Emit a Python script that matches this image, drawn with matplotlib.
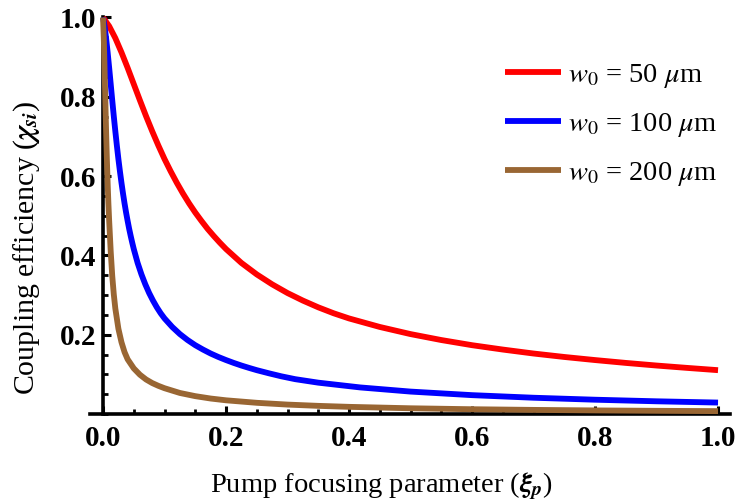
import matplotlib
matplotlib.use("Agg")
import matplotlib.pyplot as plt
from matplotlib.ticker import MultipleLocator, FixedLocator, FixedFormatter

# ---- data ----
red_x = [0.0, 0.01, 0.02, 0.03, 0.04, 0.05, 0.06, 0.07, 0.08, 0.09, 0.10,
         0.11, 0.12, 0.13, 0.14, 0.15, 0.16, 0.17, 0.18, 0.19, 0.20,
         0.225, 0.25, 0.275, 0.30, 0.325, 0.35, 0.375, 0.40,
         0.45, 0.50, 0.55, 0.60, 0.65, 0.70, 0.75, 0.80, 0.85, 0.90, 0.95, 1.00]
red_y = [1.000, 0.978, 0.948, 0.912, 0.873, 0.832, 0.791, 0.751, 0.713, 0.677, 0.643,
         0.612, 0.583, 0.556, 0.531, 0.508, 0.487, 0.467, 0.449, 0.432, 0.416,
         0.381, 0.352, 0.327, 0.305, 0.286, 0.269, 0.254, 0.241,
         0.2195, 0.2015, 0.1865, 0.1735, 0.1625, 0.1525, 0.1438, 0.1360, 0.1288, 0.1222, 0.1162, 0.1105]

blue_x = [0.0, 0.0025, 0.005, 0.0075, 0.01, 0.0125, 0.015, 0.0175, 0.02, 0.0225, 0.025,
          0.0275, 0.03, 0.0325, 0.035, 0.0375, 0.04, 0.0425, 0.045, 0.0475, 0.05,
          0.05625, 0.0625, 0.06875, 0.075, 0.08125, 0.0875, 0.09375, 0.10,
          0.1125, 0.125, 0.1375, 0.15, 0.1625, 0.175, 0.1875, 0.20, 0.2125, 0.225, 0.2375, 0.25,
          0.27, 0.29, 0.3125, 0.35, 0.418, 0.50, 0.60, 0.70, 0.80, 0.90, 1.00]
blue_y = [1.000, 0.978, 0.948, 0.912, 0.873, 0.832, 0.791, 0.751, 0.713, 0.677, 0.643,
          0.612, 0.583, 0.556, 0.531, 0.508, 0.487, 0.467, 0.449, 0.432, 0.416,
          0.381, 0.352, 0.327, 0.305, 0.286, 0.269, 0.254, 0.241,
          0.2195, 0.2015, 0.1865, 0.1735, 0.1625, 0.1525, 0.1438, 0.1360, 0.1288, 0.1222, 0.1162, 0.1105,
          0.1025, 0.0950, 0.0878, 0.0790, 0.0670, 0.0565, 0.0475, 0.0410, 0.0360, 0.0320, 0.0288]

brown_x = [0.0, 0.00125, 0.0025, 0.00375, 0.005, 0.00625, 0.0075, 0.00875, 0.01, 0.0125,
           0.015, 0.0175, 0.02, 0.025, 0.03, 0.035, 0.04, 0.05, 0.06, 0.07, 0.08, 0.09,
           0.10, 0.125, 0.15, 0.175, 0.20, 0.25, 0.30, 0.35, 0.40, 0.50, 0.60, 0.70,
           0.80, 0.90, 1.00]
brown_y = [1.0, 0.948, 0.873, 0.791, 0.713, 0.643, 0.583, 0.531, 0.487, 0.41,
           0.348, 0.302, 0.266, 0.215, 0.181, 0.156, 0.138, 0.115, 0.099, 0.087, 0.078, 0.071,
           0.065, 0.053, 0.045, 0.039, 0.0345, 0.0282, 0.0237, 0.0205, 0.018, 0.0144, 0.012, 0.0103,
           0.009, 0.008, 0.0072]

labels = [r'$w_0$ = 50 $\mu$m', r'$w_0$ = 100 $\mu$m', r'$w_0$ = 200 $\mu$m']
colors = ['#FF0000', '#0000FF', '#996633']

x_ticks = [0.0, 0.2, 0.4, 0.6, 0.8, 1.0]
x_tick_labels = ['0.0', '0.2', '0.4', '0.6', '0.8', '1.0']
y_ticks = [0.2, 0.4, 0.6, 0.8, 1.0]
y_tick_labels = ['0.2', '0.4', '0.6', '0.8', '1.0']

xlabel = r'Pump focusing parameter ($\mathbfit{\xi}_{\mathbfit{p}}$)'
ylabel = r'Coupling efficiency ($\mathbfit{\chi}_{\mathbfit{si}}$)'

# ---- style ----
plt.rcParams['font.family'] = ['Liberation Serif', 'DejaVu Serif']
plt.rcParams['mathtext.fontset'] = 'stix'

fig = plt.figure(figsize=(7.38, 5.04), dpi=100)
ax = fig.add_axes([0.1221, 0.1786, 0.8675, 0.7867])

for xs, ys, c, lab in zip([red_x, blue_x, brown_x], [red_y, blue_y, brown_y], colors, labels):
    ax.plot(xs, ys, color=c, lw=4.2, label=lab, clip_on=False, solid_capstyle='butt')

ax.set_xlim(-0.021, 1.02)
ax.set_ylim(0.0, 1.0)

for s in ['top', 'right']:
    ax.spines[s].set_visible(False)
ax.spines['left'].set_position(('data', 0.0))
ax.spines['bottom'].set_position(('data', 0.0))
ax.spines['left'].set_linewidth(2.6)
ax.spines['bottom'].set_linewidth(2.6)
ax.spines['left'].set_zorder(0.5)
ax.spines['bottom'].set_zorder(0.5)

ax.xaxis.set_major_locator(FixedLocator(x_ticks))
ax.xaxis.set_major_formatter(FixedFormatter(x_tick_labels))
ax.yaxis.set_major_locator(FixedLocator(y_ticks))
ax.yaxis.set_major_formatter(FixedFormatter(y_tick_labels))
ax.xaxis.set_minor_locator(MultipleLocator(0.05))
ax.yaxis.set_minor_locator(MultipleLocator(0.05))

ax.tick_params(which='major', direction='in', length=6, width=2.2)
ax.tick_params(which='minor', direction='in', length=3.5, width=2.0)
ax.tick_params(axis='x', which='major', pad=8)
ax.tick_params(axis='y', which='major', pad=5)
for t in ax.get_xticklabels() + ax.get_yticklabels():
    t.set_fontweight('bold')
    t.set_fontsize(21)

fig.text(381 / 738, 1 - 486 / 504, xlabel, ha='center', va='center', fontsize=20.5)
fig.text(27 / 738, 1 - 248 / 504, ylabel, ha='center', va='center', fontsize=21.5, rotation=90)

leg = ax.legend(loc='upper left', bbox_to_anchor=(505 / 738, 1 - 62 / 504),
                bbox_transform=fig.transFigure, frameon=False, fontsize=20.5,
                handlelength=1.95, handletextpad=0.25, labelspacing=0.73, borderaxespad=0,
                borderpad=0)

fig.savefig('out.png', dpi=100)
